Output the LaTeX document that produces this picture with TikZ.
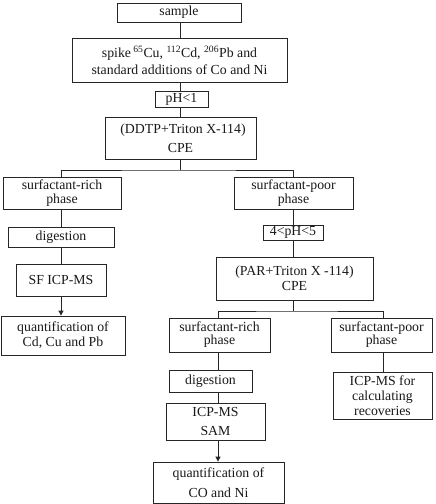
\documentclass[tikz,border=0pt]{standalone}
\usepackage{fontspec}
\setmainfont{Liberation Serif}
\usetikzlibrary{arrows.meta}
\newcommand{\lsp}[1]{\fontsize{13.8bp}{#1bp}\selectfont}
\begin{document}
\begin{tikzpicture}[x=1bp,y=-1bp,
  box/.style={draw=black!85,line width=0.8bp,inner sep=0pt,align=center,
    font=\lsp{16},text=black!90},
  conn/.style={draw=black!85,line width=0.8bp},
  arr/.style={conn,-{Triangle[width=5bp,length=5bp]}}]
\useasboundingbox (0,0) rectangle (436,504);
\fill[white] (0,0) rectangle (436,504);
\node[box,minimum width=124bp,minimum height=19bp] (sample) at (179,12.5) {sample};
\node[box,minimum width=215bp,minimum height=44bp,font=\lsp{17}] (spike) at (179.5,60)
  {spike\,\textsuperscript{65}Cu, \textsuperscript{112}Cd, \textsuperscript{206}Pb and\\standard additions of Co and Ni};
\node[box,minimum width=53bp,minimum height=16bp] (ph1) at (181.5,99) {pH<1};
\node[box,minimum width=151bp,minimum height=42bp,font=\lsp{19}] (ddtp) at (180.5,138) {\hspace*{5bp}(DDTP+Triton X-114)\\CPE};
\coordinate (b1) at (180,170);
\node[box,font=\lsp{14},minimum width=118bp,minimum height=32bp] (rich1) at (62,193) {surfactant-rich\\phase};
\node[box,font=\lsp{14},minimum width=119bp,minimum height=32bp] (poor1) at (293.5,193) {surfactant-poor\\phase};
\node[box,minimum width=106bp,minimum height=20bp] (dig1) at (61,237) {digestion};
\node[box,minimum width=60bp,minimum height=15bp] (ph45) at (293,232.5) {4<pH<5};
\node[box,minimum width=90bp,minimum height=32bp] (sf) at (61,280) {SF ICP-MS};
\node[box,font=\lsp{14.5},minimum width=157bp,minimum height=43bp] (par) at (294.5,278.5) {(PAR+Triton X -114)\\CPE};
\coordinate (b2) at (293,311);
\node[box,font=\lsp{15},minimum width=124bp,minimum height=39bp] (quant1) at (63,335.5) {quantification of\\Cd, Cu and Pb};
\node[box,font=\lsp{13},minimum width=101bp,minimum height=34bp] (rich2) at (219.5,335) {surfactant-rich\\phase};
\node[box,font=\lsp{13},minimum width=101bp,minimum height=34bp] (poor2) at (381.5,335) {surfactant-poor\\phase};
\node[box,minimum width=83bp,minimum height=22bp] (dig2) at (210.5,381) {digestion};
\node[box,font=\lsp{18.7},minimum width=99bp,minimum height=37bp] (sam) at (215.5,421.5) {ICP-MS\\SAM};
\node[box,font=\lsp{20},minimum width=131bp,minimum height=41bp] (quant2) at (218.5,482.5) {quantification of\\CO and Ni};
\node[box,font=\lsp{15},minimum width=99bp,minimum height=47bp] (calc) at (382.5,395.5) {ICP-MS for\\calculating\\recoveries};
% connectors
\draw[conn] (sample.south -| b1) -- (spike.north -| b1);
\draw[conn] (spike.south -| b1) -- (ph1.north -| b1);
\draw[conn] (ph1.south -| b1) -- (ddtp.north -| b1);
\draw[conn] (ddtp.south -| b1) -- (b1);
\draw[conn] (rich1.north -| dig1.north) |- (b1) -| (poor1.north -| b2);
\draw[conn] (rich1.south -| dig1.north) -- (dig1.north);
\draw[conn] (dig1.south) -- (sf.north);
\draw[arr] (sf.south) -- (quant1.north -| sf.south);
\draw[conn] (poor1.south -| b2) -- (ph45.north -| b2);
\draw[conn] (ph45.south -| b2) -- (par.north -| b2);
\draw[conn] (par.south -| b2) -- (b2);
\coordinate (x1) at (218,311);
\coordinate (x2) at (383,311);
\draw[conn] (rich2.north -| x1) |- (b2) -| (poor2.north -| x2);
\draw[conn] (rich2.south -| x1) -- (dig2.north -| x1);
\draw[conn] (dig2.south -| x1) -- (sam.north -| x1);
\draw[arr] (sam.south -| x1) -- (quant2.north -| x1);
\draw[conn] (poor2.south -| x2) -- (calc.north -| x2);
\end{tikzpicture}
\end{document}
